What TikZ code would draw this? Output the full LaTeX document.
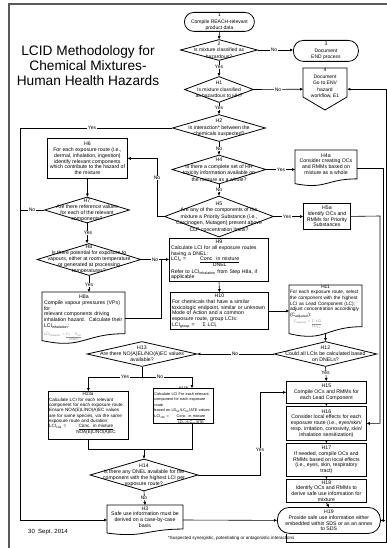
\documentclass[tikz,border=0pt]{standalone}
\usepackage{fontspec}
\setmainfont{Liberation Sans}
\usetikzlibrary{shapes.geometric,arrows.meta}

% flowchart "document" symbol: straight top and sides, wavy bottom edge
% #1 name, #2 left x, #3 top y, #4 width, #5 height
\newcommand\docshape[5]{%
  \node[inner sep=0pt, outer sep=0pt, minimum width=#4pt, minimum height=#5pt, anchor=north west] (#1) at (#2,#3) {};
  \pgfmathsetmacro\dsR{#2+#4}%
  \pgfmathsetmacro\dsM{#2+0.5*#4}%
  \pgfmathsetmacro\dsA{#3+0.802*#5}%
  \pgfmathsetmacro\dsB{#3+1.107*#5}%
  \pgfmathsetmacro\dsC{#3+0.934*#5}%
  \draw[boxline] (#2,#3) -- (\dsR,#3) -- (\dsR,\dsA) .. controls (\dsM,\dsA) and (\dsM,\dsB) .. (#2,\dsC) -- cycle;
}

\begin{document}
\begin{tikzpicture}[x=1pt, y=-1pt,
  wire/.style={draw=black, line width=0.6pt},
  flow/.style={wire, -{Triangle[length=3pt,width=2.6pt]}},
  boxline/.style={draw=black, line width=0.8pt},
  procbox/.style={boxline, rectangle, inner sep=0pt, anchor=north west},
  termbox/.style={procbox, rounded corners=#1},
  decision/.style={boxline, diamond, inner sep=0pt},
  ftext/.style={inner sep=0pt, align=center, font=\fontsize{5.2}{5.7}\selectfont},
  dtext/.style={inner sep=0pt, align=center, font=\fontsize{5.2}{6.5}\selectfont},
  ttext/.style={inner sep=0pt, align=center, font=\fontsize{5}{6.5}\selectfont},
  ltext/.style={inner sep=0pt, align=left, font=\fontsize{5.2}{5.7}\selectfont},
  answer/.style={fill=white, inner sep=0.5pt, font=\fontsize{5}{5}\selectfont},
  frameline/.style={draw=black!65, line width=1.2pt},
]
\fill[white] (0,0) rectangle (387,548);
\useasboundingbox (0,0) rectangle (387,548);

% page frame
\draw[frameline] (9,548) -- (9,4) -- (387,4);

% title
\node[inner sep=0pt, align=center, font=\fontsize{13.7}{15}\selectfont] (title) at (88,66)
  {LCID Methodology for\\Chemical Mixtures-\\Human Health Hazards};

% ---------- top column ----------
\node[termbox=9.5pt, minimum width=70pt, minimum height=19pt] (b1) at (184,12) {};
\node[ttext] (b1t) at (b1) {1\\Compile REACH-relevant\\product data};

\node[decision, minimum width=77pt, minimum height=21pt] (d2) at (219,50) {};
\node[ttext] (d2t) at (d2) {2\\Is mixture classified as\\hazardous?};

\node[termbox=10pt, minimum width=65pt, minimum height=21pt] (b3) at (293,40) {};
\node[ttext] (b3t) at (b3) {3\\Document\\END process};

\node[decision, minimum width=69pt, minimum height=26pt] (h1) at (219,89.5) {};
\node[ttext] (h1t) at (h1) {H1\\Is mixture classified\\as hazardous to HH?};

% off-page connector 4
\draw[boxline] (303,68) -- (347,68) -- (347,97) -- (325,110) -- (303,97) -- cycle;
\node[inner sep=0pt, minimum width=44pt, minimum height=42pt, anchor=north west] (d4) at (303,68) {};
\node[ttext] (d4t) at (325,83.5) {4\\Document\\Go to ENV\\hazard\\workflow, E1};

\node[decision, minimum width=93pt, minimum height=27pt] (h2) at (219,128) {};
\node[dtext] (h2t) at (h2) {H2\\Is interaction* between the\\chemicals suspected?};

\node[decision, minimum width=94pt, minimum height=29pt] (h4) at (219,169.5) {};
\node[dtext] (h4t) at (h4) {H4\\Is there a complete set of HH\\toxicity information available on\\the mixture as a whole?};

\node[decision, minimum width=109pt, minimum height=41pt] (h5) at (219,216.5) {};
\node[dtext] (h5t) at (h5) {H5\\Are any of the components of the\\mixture a Priority Substance (i.e.,\\Carcinogen, Mutagen) present above\\CLP concentration limits?};

% ---------- right branches ----------
\docshape{h4a}{295}{150}{62}{36}
\node[ftext] (h4at) at (326,164) {H4a\\Consider creating OCs\\and RMMs based on\\mixture as a whole};

\node[procbox, minimum width=47pt, minimum height=26pt] (h5a) at (303,203) {};
\node[ftext] (h5at) at (h5a) {H5a\\Identify OCs and\\RMMs for Priority\\Substances};

% ---------- left column ----------
\node[procbox, minimum width=80pt, minimum height=40pt] (h6) at (47,138) {};
\node[ftext] (h6t) at (h6) {H6\\For each exposure route (i.e.,\\dermal, inhalation, ingestion)\\identify relevant components\\which contribute to the hazard of\\the mixture};

\node[decision, minimum width=85pt, minimum height=26pt] (h7) at (87,210) {};
\node[ftext, font=\fontsize{5.2}{6}\selectfont] (h7t) at (h7) {H7\\Are there reference values\\for each of the relevant\\components?};

\node[decision, minimum width=104pt, minimum height=32pt] (h8) at (89,259.5) {};
\node[ftext, font=\fontsize{5.2}{6}\selectfont] (h8t) at (h8) {H8\\Is there potential for exposure to\\vapours, either at room temperature\\or generated at processing\\temperatures?};

\docshape{h8a}{42}{292}{83}{52}
\node[ltext, text width=80pt, anchor=north] (h8at) at (84,295) {{\centering H8a\par}Compile vapour pressures (VPs) for\\relevant components driving\\inhalation hazard.\ \ Calculate their\\LCI\textsubscript{inhalation}:\\[2pt]
{\color{black!45}\fontsize{3.6}{4}\selectfont LCI\textsubscript{inhalation} = \begin{tabular}[t]{@{}c@{}}\underline{C\textsubscript{i} · C\textsubscript{sat}}\\DNEL\end{tabular}}};

% ---------- middle column ----------
\node[procbox, line width=1pt, minimum width=99pt, minimum height=43pt] (h9) at (169,238) {};
\node[ltext, text width=96pt] (h9t) at (h9) {{\centering H9\par}Calculate LCI for all exposure routes\\having a DNEL:\\LCI\textsubscript{x} =\hspace{14pt}\begin{tabular}[t]{@{}c@{}}\underline{Conc. in mixture}\\DNEL\end{tabular}\\Refer to LCI\textsubscript{inhalation} from Step H8a, if\\applicable};

\node[procbox, line width=1pt, minimum width=98pt, minimum height=37pt] (h10) at (170,292) {};
\node[ltext, text width=95pt] (h10t) at (h10) {{\centering H10\par}For chemicals that have a similar\\toxicologic endpoint, similar or unknown\\Mode of Action and a common\\exposure route, group LCIs:\\LCI\textsubscript{group} =\hspace{8pt}Σ LCI\textsubscript{i}};

\docshape{h11}{289}{285}{73}{52}
\node[ltext, text width=71pt, font=\fontsize{4.8}{5.6}\selectfont] (h11t) at (325.5,307) {{\centering H11\par}For each exposure route, select\\the component with the highest\\LCI as Lead Component (LC);\\adjust concentration accordingly\\(C\textsubscript{adjusted}):\\[1pt]
\hspace*{4pt}{\color{black!45}\fontsize{3.6}{4}\selectfont C\textsubscript{adjusted} = \begin{tabular}[t]{@{}c@{}}\underline{Σ LCI}\\LCI\textsubscript{LC}\end{tabular}}};
\coordinate (h11b) at (325.5,333.5);

\node[decision, minimum width=103pt, minimum height=25pt] (h12) at (325.5,354) {};
\node[dtext, font=\fontsize{5.2}{6}\selectfont] (h12t) at (h12) {H12\\Could all LCIs be calculated based\\on DNELs?};

\node[decision, minimum width=110pt, minimum height=25pt] (h13) at (142,354) {};
\node[dtext, font=\fontsize{5.2}{6}\selectfont] (h13t) at (h13) {H13\\Are there NO(A)EL/NO(A)EC values\\available?};

\node[procbox, minimum width=80pt, minimum height=48pt] (h13a) at (48,391) {};
\node[ltext, text width=78pt, anchor=north, font=\fontsize{4.6}{5.3}\selectfont] (h13at) at (88,392.5) {{\centering H13a\par}Calculate LCI for each relevant\\component for each exposure route.\\Ensure NOA(E)L/NO(A)EC values\\are for same species, via the same\\exposure route and duration:\\LCI\textsubscript{13a} =\hspace{10pt}\begin{tabular}[t]{@{}c@{}}\underline{Conc. in mixture}\\NOA(E)L/NO(A)EC\end{tabular}};

\node[procbox, minimum width=60pt, minimum height=35pt] (h13b) at (153,388) {};
\node[ltext, text width=58pt, font=\fontsize{3.8}{5.6}\selectfont] (h13bt) at (h13b) {{\centering H13b\par}Calculate LCI For each relevant\\component for each exposure route\\based on LD\textsubscript{50}/LC\textsubscript{50}/ATE values:\\LCI\textsubscript{13b} =\hspace{8pt}\begin{tabular}[t]{@{}c@{}}\underline{Conc. in mixture}\\LD\textsubscript{50}/LC\textsubscript{50}/ATE\end{tabular}};

\node[decision, minimum width=108pt, minimum height=32pt] (h14) at (144,475) {};
\node[dtext, font=\fontsize{5.2}{6}\selectfont] (h14t) at (h14) {H14\\Is there any DNEL available for the\\component with the highest LCI per\\exposure route?};

\docshape{h3}{107}{505}{76}{30}
\node[ftext] (h3t) at (145,517) {H3\\Safe use information must be\\derived on a case-by-case\\basis};

% ---------- right column ----------
\node[procbox, minimum width=80pt, minimum height=22pt] (h15) at (286,381) {};
\node[ftext] (h15t) at (h15) {H15\\Compile OCs and RMMs for\\each Lead Component};

\node[procbox, minimum width=80pt, minimum height=34pt] (h16) at (286,406) {};
\node[ftext] (h16t) at (h16) {H16\\Consider local effects for each\\exposure route (i.e., eyes/skin/\\resp. irritation, corrosivity, skin/\\inhalation sensitization)};

\node[procbox, minimum width=80pt, minimum height=33pt] (h17) at (286,443) {};
\node[ftext] (h17t) at (h17) {H17\\If needed, compile OCs and\\RMMs based on local effects\\(i.e., eyes, skin, respiratory\\tract)};

\node[procbox, minimum width=80pt, minimum height=23pt] (h18) at (286,479) {};
\node[ftext] (h18t) at (h18) {H18\\Identify OCs and RMMs to\\derive safe use information for\\mixture};

\node[termbox=12pt, minimum width=103pt, minimum height=26pt] (h19) at (277,507) {};
\node[ftext] (h19t) at (h19) {H19\\Provide safe use information either\\embedded within SDS or as an annex\\to SDS};

% ---------- bend points ----------
\coordinate (c20) at (20,128);
\coordinate (c157) at (157,216.5);
\coordinate (j8) at (161,259.5);
\coordinate (k13) at (142,377);
\coordinate (x192) at (192,0);
\coordinate (m14) at (144,449);
\coordinate (k14) at (260,475);
\coordinate (r3) at (383.5,168);
\coordinate (r4) at (380,216);
\coordinate (r1) at (286,542);
\coordinate (r2) at (386,542);

% ---------- connectors ----------
\draw[flow] (b1.south) -- (d2.north);
\draw[flow] (d2.east) -- (b3.west |- d2.east);
\draw[flow] (d2.south) -- (h1.north);
\draw[flow] (h1.east) -- (d4.west);
\draw[flow] (h1.south) -- (h2.north);
\draw[flow] (h2.west) -- (c20) |- (h3.west);
\draw[flow] (h2.south) -- (h4.north);
\draw[flow] (h4.east) -- (h4a.west |- h4.east);
\draw[flow] (h4.south) -- (h5.north);
\draw[flow] (h5.east) -- (h5a.west |- h5.east);
\draw[flow] (h5.west) -- (c157) |- (h6.east);
\draw[flow] (h6.south) -- (h6.south |- h7.north);
\draw[wire] (h7.west) -- (h7.west -| c20);
\draw[flow] (h7.south) -- (h7.south |- h8.north);
\draw[flow] (h8.south) -- (h8.south |- h8a.north);
\draw[flow] (h8.east) -- (h9.west |- h8.east);
\draw[wire] (h8a.east) -| (j8);
\draw[flow] (h9.south) -- (h10.north);
\draw[flow] (h10.east) -- (h11.west |- h10.east);
\draw[flow] (h11b) -- (h12.north);
\draw[flow] (h12.south) -- (h15.north);
\draw[flow] (h12.west) -- (h13.east);
\draw[wire] (h13.south) -- (k13);
\draw[flow] (k13) -| (h13a.north);
\draw[flow] (k13) -| (h13b.north -| x192);
\draw[wire] (h13a.south) |- (m14);
\draw[wire] (h13b.south -| x192) |- (m14);
\draw[flow] (m14) -- (h14.north);
\draw[flow] (h14.south) -- (h3.north);
\draw[flow] (h14.east) -- (k14) |- (h15.west);
\draw[flow] (h15.south) -- (h16.north);
\draw[flow] (h16.south) -- (h17.north);
\draw[flow] (h17.south) -- (h18.north);
\draw[flow] (h18.south) -- (h19.north);
\draw[flow] (h3.east) -- (h19.west);
\draw[flow] (h4a.east) -- (r3) |- (h19.east);
\draw[flow] (h5a.east) -- (r4) |- (h16.east);
\draw[flow] (h19.south -| r1) -- (r1) -- (r2) |- (d4.east);

% ---------- answers ----------
\node[answer] (a1) at (274,50) {No};
\node[answer] (a2) at (219,67) {Yes};
\node[answer] (a3) at (278,89.5) {No};
\node[answer] (a4) at (219,108) {Yes};
\node[answer] (a5) at (92,128) {Yes};
\node[answer] (a6) at (219,149) {No};
\node[answer] (a7) at (281,169.5) {Yes};
\node[answer] (a8) at (219,190) {No};
\node[answer] (a9) at (287,216.5) {Yes};
\node[answer] (a10) at (157,178) {No};
\node[answer] (a11) at (32,210) {No};
\node[answer] (a12) at (88,233) {Yes};
\node[answer] (a13) at (155,259.5) {No};
\node[answer] (a14) at (89,285) {Yes};
\node[answer] (a15) at (325.5,373) {Yes};
\node[answer] (a16) at (235,354) {No};
\node[answer] (a17) at (125,377) {Yes};
\node[answer] (a18) at (160,377) {No};
\node[answer] (a19) at (260,450) {Yes};
\node[answer] (a20) at (144,498) {No};

% ---------- footer ----------
\node[anchor=west, inner sep=0pt, font=\fontsize{6}{6}\selectfont] (date) at (28,532) {30\ \ Sept. 2014};
\node[anchor=west, inner sep=0pt, font=\fontsize{4.5}{5}\selectfont] (note) at (168,538) {*Suspected synergistic, potentiating or antagonistic interactions};
\end{tikzpicture}
\end{document}
